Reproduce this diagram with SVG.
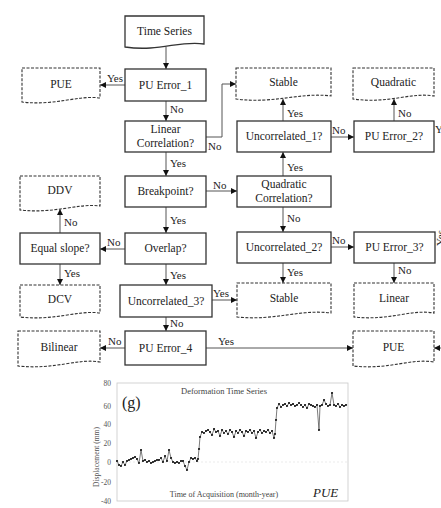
<svg xmlns="http://www.w3.org/2000/svg" width="441" height="508" viewBox="0 0 441 508">
<style>
.box{fill:#fff;stroke:#333;stroke-width:1.3}
.doc{fill:#fff;stroke:#333;stroke-width:1.1;stroke-dasharray:3 1.5}
.sdoc{fill:#fff;stroke:#333;stroke-width:1.3}
.t{font-family:"Liberation Serif",serif;font-size:11.5px;fill:#222;text-anchor:middle}
.l{font-family:"Liberation Serif",serif;font-size:11px;fill:#222}
.c{fill:none;stroke:#555;stroke-width:1}
.ax{font-family:"Liberation Serif",serif;font-size:7.5px;fill:#555;text-anchor:end}
</style>
<defs>
<marker id="ah" markerWidth="6" markerHeight="6" refX="6" refY="3" orient="auto" markerUnits="userSpaceOnUse"><path d="M0,0 L6,3 L0,6 z" fill="#111"/></marker>
<marker id="dot" markerWidth="3" markerHeight="3" refX="1.5" refY="1.5" markerUnits="userSpaceOnUse"><circle cx="1.5" cy="1.5" r="1.1" fill="#222"/></marker>
</defs>
<rect width="441" height="508" fill="#fff"/>

<g id="connectors">
<line class="c" x1="166" y1="47" x2="166" y2="69" marker-end="url(#ah)"/>
<line class="c" x1="125" y1="85" x2="100" y2="85" marker-end="url(#ah)"/>
<line class="c" x1="166" y1="101" x2="166" y2="121" marker-end="url(#ah)"/>
<polyline class="c" points="206,137 222,137 222,84 236,84" marker-end="url(#ah)"/>
<line class="c" x1="166" y1="152" x2="166" y2="176" marker-end="url(#ah)"/>
<line class="c" x1="283" y1="121" x2="283" y2="99" marker-end="url(#ah)"/>
<line class="c" x1="331" y1="137" x2="354" y2="137" marker-end="url(#ah)"/>
<line class="c" x1="394" y1="121" x2="394" y2="99" marker-end="url(#ah)"/>
<line class="c" x1="283" y1="176" x2="283" y2="152" marker-end="url(#ah)"/>
<line class="c" x1="206" y1="191" x2="237" y2="191" marker-end="url(#ah)"/>
<line class="c" x1="166" y1="207" x2="166" y2="233" marker-end="url(#ah)"/>
<line class="c" x1="125" y1="249" x2="100" y2="249" marker-end="url(#ah)"/>
<line class="c" x1="60" y1="233" x2="60" y2="209" marker-end="url(#ah)"/>
<line class="c" x1="60" y1="264" x2="60" y2="285" marker-end="url(#ah)"/>
<line class="c" x1="166" y1="264" x2="166" y2="285" marker-end="url(#ah)"/>
<line class="c" x1="283" y1="207" x2="283" y2="232" marker-end="url(#ah)"/>
<line class="c" x1="331" y1="247" x2="354" y2="247" marker-end="url(#ah)"/>
<line class="c" x1="283" y1="263" x2="283" y2="283" marker-end="url(#ah)"/>
<line class="c" x1="394" y1="263" x2="394" y2="283" marker-end="url(#ah)"/>
<line class="c" x1="212" y1="300" x2="237" y2="300" marker-end="url(#ah)"/>
<line class="c" x1="166" y1="317" x2="166" y2="331" marker-end="url(#ah)"/>
<line class="c" x1="125" y1="348" x2="100" y2="348" marker-end="url(#ah)"/>
<line class="c" x1="206" y1="348" x2="353" y2="348" marker-end="url(#ah)"/>
<line class="c" x1="442" y1="348" x2="434" y2="348" marker-end="url(#ah)"/>

<text class="l" x="107" y="82">Yes</text>
<text class="l" x="170" y="113">No</text>
<text class="l" x="208" y="150">No</text>
<text class="l" x="170" y="167">Yes</text>
<text class="l" x="287" y="117">Yes</text>
<text class="l" x="332" y="134">No</text>
<text class="l" x="398" y="117">No</text>
<text class="l" x="435" y="133">Y</text>
<text class="l" x="287" y="171">Yes</text>
<text class="l" x="213" y="189">No</text>
<text class="l" x="170" y="224">Yes</text>
<text class="l" x="107" y="246">No</text>
<text class="l" x="64" y="226">No</text>
<text class="l" x="64" y="277">Yes</text>
<text class="l" x="170" y="279">Yes</text>
<text class="l" x="287" y="222">No</text>
<text class="l" x="332" y="244">No</text>
<text class="l" x="287" y="276">Yes</text>
<text class="l" x="398" y="274">No</text>
<text class="l" transform="translate(444,246) rotate(-90)">Yes</text>
<text class="l" x="213" y="297">Yes</text>
<text class="l" x="170" y="327">No</text>
<text class="l" x="108" y="345">No</text>
<text class="l" x="218" y="345">Yes</text>
</g>

<g id="time-series"><path class="sdoc" d="M125,16 H204 V44 C180,40 160,52 125,47 Z"/><text class="t" x="164.5" y="35">Time Series</text></g>
<g id="pu-error-1"><rect class="box" x="125" y="69" width="81" height="32"/><text class="t" x="165.5" y="89">PU Error_1</text></g>
<g id="pue-left"><path class="doc" d="M22,68 H100 V98 C78,95 55,106 22,102 Z"/><text class="t" x="61" y="88">PUE</text></g>
<g id="linear-corr"><rect class="box" x="125" y="121" width="81" height="31"/><text class="t" x="165.5" y="133">Linear</text><text class="t" x="165.5" y="147">Correlation?</text></g>
<g id="stable-1"><path class="doc" d="M236,68 H331 V96 C300,92 275,104 236,99 Z"/><text class="t" x="283.5" y="86">Stable</text></g>
<g id="uncorrelated-1"><rect class="box" x="237" y="121" width="94" height="31"/><text class="t" x="284" y="140">Uncorrelated_1?</text></g>
<g id="quadratic"><path class="doc" d="M353,68 H434 V96 C410,92 390,104 353,99 Z"/><text class="t" x="393.5" y="86">Quadratic</text></g>
<g id="pu-error-2"><rect class="box" x="354" y="121" width="80" height="31"/><text class="t" x="394" y="140">PU Error_2?</text></g>
<g id="breakpoint"><rect class="box" x="125" y="176" width="81" height="31"/><text class="t" x="165.5" y="195">Breakpoint?</text></g>
<g id="quadratic-corr"><rect class="box" x="237" y="176" width="94" height="31"/><text class="t" x="284" y="188">Quadratic</text><text class="t" x="284" y="202">Correlation?</text></g>
<g id="ddv"><path class="doc" d="M20,176 H100 V206 C78,203 55,214 20,210 Z"/><text class="t" x="60" y="194">DDV</text></g>
<g id="equal-slope"><rect class="box" x="20" y="233" width="80" height="31"/><text class="t" x="60" y="252">Equal slope?</text></g>
<g id="overlap"><rect class="box" x="125" y="233" width="81" height="31"/><text class="t" x="165.5" y="252">Overlap?</text></g>
<g id="uncorrelated-2"><rect class="box" x="237" y="232" width="94" height="31"/><text class="t" x="284" y="251">Uncorrelated_2?</text></g>
<g id="pu-error-3"><rect class="box" x="354" y="232" width="81" height="31"/><text class="t" x="394.5" y="251">PU Error_3?</text></g>
<g id="dcv"><path class="doc" d="M20,285 H100 V313 C78,310 55,321 20,317 Z"/><text class="t" x="60" y="303">DCV</text></g>
<g id="uncorrelated-3"><rect class="box" x="120" y="285" width="92" height="32"/><text class="t" x="166" y="305">Uncorrelated_3?</text></g>
<g id="stable-2"><path class="doc" d="M237,283 H331 V313 C300,309 275,321 237,317 Z"/><text class="t" x="284" y="302">Stable</text></g>
<g id="linear"><path class="doc" d="M354,283 H434 V313 C410,309 390,321 354,317 Z"/><text class="t" x="394" y="302">Linear</text></g>
<g id="bilinear"><path class="doc" d="M18,331 H100 V362 C78,358 55,370 18,366 Z"/><text class="t" x="59" y="351">Bilinear</text></g>
<g id="pu-error-4"><rect class="box" x="125" y="331" width="81" height="34"/><text class="t" x="165.5" y="352">PU Error_4</text></g>
<g id="pue-right"><path class="doc" d="M353,331 H434 V362 C410,358 390,370 353,366 Z"/><text class="t" x="393.5" y="351">PUE</text></g>

<g id="chart">
<rect x="117" y="383" width="231" height="118" fill="#fff" stroke="#c8c8c8" stroke-width="0.8"/>
<line x1="117" y1="462" x2="348" y2="462" stroke="#ddd" stroke-width="0.6" stroke-dasharray="2 2"/>
<text class="ax" x="111" y="386">80</text>
<text class="ax" x="111" y="409">60</text>
<text class="ax" x="111" y="427">40</text>
<text class="ax" x="111" y="446">20</text>
<text class="ax" x="111" y="465">0</text>
<text class="ax" x="111" y="485">-20</text>
<text class="ax" x="111" y="504">-40</text>
<text font-family="Liberation Serif,serif" font-size="7.5" fill="#555" text-anchor="middle" transform="translate(99,457) rotate(-90)">Displacement (mm)</text>
<text font-family="Liberation Serif,serif" font-size="8.5" fill="#444" text-anchor="middle" x="224" y="394">Deformation Time Series</text>
<text font-family="Liberation Serif,serif" font-size="16" fill="#222" x="122" y="408">(g)</text>
<text font-family="Liberation Serif,serif" font-size="8" fill="#444" text-anchor="middle" x="224" y="497">Time of Acquisition (month-year)</text>
<text font-family="Liberation Serif,serif" font-size="13" font-style="italic" fill="#222" x="313" y="497">PUE</text>
<polyline fill="none" stroke="#444" stroke-width="0.7" marker-start="url(#dot)" marker-mid="url(#dot)" marker-end="url(#dot)" points="117,461 119,465 121,466 123,462 125,465 127,461 129,460 131,459 133,458 135,457 137,459 139,463 141,450 143,461 145,460 147,462 149,461 151,463 153,462 155,461 157,460 159,460 161,458 163,462 165,456 167,461 169,450 171,458 173,462 175,463 177,462 179,463 181,461 183,461 185,466 187,470 189,462 191,458 193,459 195,458 197,461 198,459 199,449 200,437 202,432 204,433 206,431 208,430 210,432 212,435 214,429 216,432 218,431 220,436 222,430 224,433 226,431 228,434 230,430 232,432 234,437 236,431 238,433 240,430 242,432 244,436 246,431 248,432 250,430 252,433 254,431 256,438 258,432 260,430 262,433 264,431 266,432 268,430 270,433 272,431 274,438 275,434 276,420 277,408 279,404 281,407 283,405 285,404 287,406 289,403 291,405 293,404 295,406 297,405 299,403 301,405 303,407 305,405 307,408 309,404 311,405 313,406 315,407 317,405 319,430 320,406 322,405 324,400 326,404 328,406 330,405 332,393 334,405 336,406 338,404 340,407 342,405 344,406 346,405"/>
</g>
</svg>
